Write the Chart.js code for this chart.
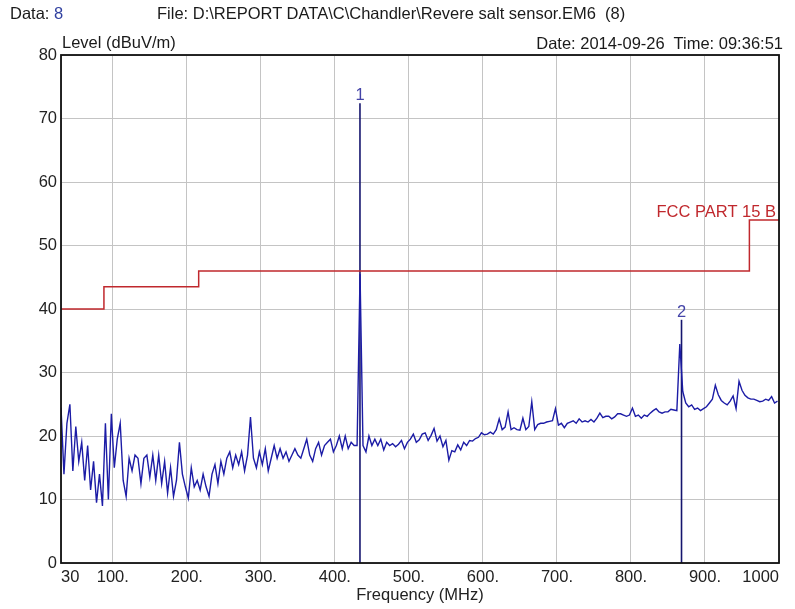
<!DOCTYPE html>
<html>
<head>
<meta charset="utf-8">
<script src="https://cdn.jsdelivr.net/npm/chart.js@4.4.1/dist/chart.umd.min.js"></script>
<style>
  html, body { margin: 0; padding: 0; background: #fff; }
  #wrap { position: relative; width: 795px; height: 609px; overflow: hidden; }
  #c { position: absolute; left: 0; top: 0; }
  .t { position: absolute; font-family: "Liberation Sans", Arial, sans-serif; font-size: 16.5px; line-height: 1; color: #1a1a1a; white-space: pre; }
</style>
</head>
<body>
<div id="wrap">
  <canvas id="c" width="795" height="609"></canvas>
  <div class="t" style="left:10px; top:5px;">Data: <span style="color:#3040a0">8</span></div>
  <div class="t" style="left:157px; top:5px;">File: D:\REPORT DATA\C\Chandler\Revere salt sensor.EM6  (8)</div>
  <div class="t" style="left:62px; top:34px;">Level (dBuV/m)</div>
  <div class="t" style="right:12px; top:35px;">Date: 2014-09-26  Time: 09:36:51</div>
</div>
<script>
// ---- data ----
const sweepStart = 30;   // MHz
const sweepStep = 4;     // MHz
const levels = [
  24.5, 14, 22, 25, 14.5, 21.5, 16, 19, 13, 18.5,
  11.5, 16, 9.5, 14, 9, 22, 10, 23.5, 15, 19.5,
  22, 13, 10.5, 16.5, 14.5, 17, 16.5, 12.5, 16.5, 17,
  13.5, 17, 13, 17, 12.5, 16, 11, 15, 10.5, 13,
  19, 14, 12, 10.2, 15, 12, 13, 11.5, 14, 12,
  10.5, 14, 15.5, 12.5, 16, 14, 16.5, 17.5, 15, 17,
  15.5, 17.5, 14.5, 17, 23, 16.5, 15, 17.5, 15.5, 18,
  14.5, 16.5, 18.5, 16.5, 18, 16.5, 17.5, 16, 17, 18,
  17, 16.5, 18, 19.5, 17, 16, 18, 19, 17, 18.5,
  19, 19.5, 17.5, 18.5, 20, 18, 20, 18, 19, 18.5,
  18.5, 45.5, 18.5, 17.5, 20, 18.5, 19.5, 18.5, 19.5, 17.8,
  19, 18.5, 18.8, 18.3, 18.7, 19.3, 18, 19, 19.5, 20.3,
  19, 19.4, 20.3, 20.5, 19.3, 20.1, 21.2, 19.2, 20, 18.3,
  19.3, 16.2, 17.7, 17.5, 18.6, 17.8, 19, 18.5, 19.3, 19.2,
  19.6, 19.8, 20.5, 20.2, 20.3, 20.6, 20.3, 21, 22.7, 21,
  21.4, 23.8, 21, 21.3, 21, 20.9, 22.8, 21, 21.5, 25.4,
  21, 21.8, 22, 22, 22.2, 22.3, 22.4, 24.3, 21.7, 22.0,
  21.3, 22, 22.2, 22.4, 22, 22.7, 22.2, 22.4, 22.2, 22.6,
  22.2, 22.8, 23.6, 22.9, 23.1, 23.1, 22.7, 23, 23.5, 23.5,
  23.3, 23.1, 23.3, 24.4, 23.1, 23.3, 22.8, 23.3, 23.1, 23.6,
  24, 24.3, 23.8, 23.6, 23.8, 23.8, 24.2, 24.1, 24, 34.5,
  27, 25.2, 24.6, 24.9, 24.2, 24.4, 24, 24.3, 24.6, 25.2,
  25.8, 28, 26.5, 25.6, 25.2, 24.9, 25.5, 26.3, 24.3, 28.6,
  27.2, 26.4, 26, 25.8, 25.8, 25.6, 25.4, 25.5, 25.8, 25.6,
  26.2, 25.2, 25.5
];
const limitName = 'FCC PART 15 B';
const limitFreq  = [30, 88, 88, 216, 216, 960, 960, 1000];
const limitLevel = [40, 40, 43.5, 43.5, 46, 46, 54, 54];
const markerNames = ['1', '2'];
const markerFreq  = [433.9, 868.3];
const markerLevel = [72.4, 38.3];
const xTickValues = [30, 100, 200, 300, 400, 500, 600, 700, 800, 900, 1000];
const xTickLabels = ['30', '100.', '200.', '300.', '400.', '500.', '600.', '700.', '800.', '900.', '1000'];
const yMin = 0, yMax = 80, yStep = 10;

// ---- build datasets ----
const tracePts = levels.map((v, i) => ({ x: sweepStart + i * sweepStep, y: v }));
const limitPts = limitFreq.map((f, i) => ({ x: f, y: limitLevel[i] }));
const datasets = [
  { data: tracePts, borderColor: '#1c1ca6', borderWidth: 1.4, pointRadius: 0, showLine: true, tension: 0 },
  { data: limitPts, borderColor: '#c0282d', borderWidth: 1.5, pointRadius: 0, showLine: true, tension: 0 }
];
markerFreq.forEach((f, i) => {
  datasets.push({ data: [{ x: f, y: 0 }, { x: f, y: markerLevel[i] }], borderColor: '#15156e', borderWidth: 1.6, pointRadius: 0, showLine: true });
});

const FONT = '"Liberation Sans", Arial, sans-serif';

const overlay = {
  id: 'overlay',
  afterDatasetsDraw(chart) {
    const { ctx, chartArea: a, scales: { x, y } } = chart;
    ctx.save();
    // frame
    ctx.strokeStyle = '#111';
    ctx.lineWidth = 1.8;
    ctx.strokeRect(a.left, a.top, a.right - a.left, a.bottom - a.top);
    // limit label
    ctx.font = '16.5px ' + FONT;
    ctx.fillStyle = '#c0282d';
    ctx.textAlign = 'right';
    ctx.textBaseline = 'alphabetic';
    ctx.fillText(limitName, x.getPixelForValue(1000) - 3, y.getPixelForValue(limitLevel[limitLevel.length - 1]) - 3);
    // marker labels
    ctx.fillStyle = '#4444a8';
    ctx.textAlign = 'center';
    markerFreq.forEach((f, i) => {
      ctx.fillText(markerNames[i], x.getPixelForValue(f), y.getPixelForValue(markerLevel[i]) - 3);
    });
    ctx.restore();
  }
};

new Chart(document.getElementById('c'), {
  type: 'scatter',
  data: { datasets },
  options: {
    responsive: false,
    animation: false,
    events: [],
    layout: { padding: { top: 55, right: 16, left: 0, bottom: 0 } },
    plugins: { legend: { display: false }, tooltip: { enabled: false } },
    scales: {
      x: {
        type: 'linear', min: 30, max: 1000,
        afterBuildTicks(s) { s.ticks = xTickValues.map(v => ({ value: v })); },
        afterFit(s) { s.height = 46; },
        grid: { color: '#c4c4c4', lineWidth: 1, drawTicks: false },
        border: { display: false },
        ticks: {
          autoSkip: false, maxRotation: 0, padding: 5, align: 'inner',
          color: '#222', font: { family: FONT, size: 16.5 },
          callback(v) { const k = xTickValues.indexOf(v); return k >= 0 ? xTickLabels[k] : ''; }
        },
        title: { display: true, text: 'Frequency (MHz)', color: '#222', font: { family: FONT, size: 16.5 }, padding: { top: 2, bottom: 4 } }
      },
      y: {
        type: 'linear', min: yMin, max: yMax,
        afterFit(s) { s.width = 61; },
        grid: { color: '#c4c4c4', lineWidth: 1, drawTicks: false },
        border: { display: false },
        ticks: { stepSize: yStep, padding: 4, color: '#222', font: { family: FONT, size: 16.5 } }
      }
    }
  },
  plugins: [overlay]
});
</script>
</body>
</html>
